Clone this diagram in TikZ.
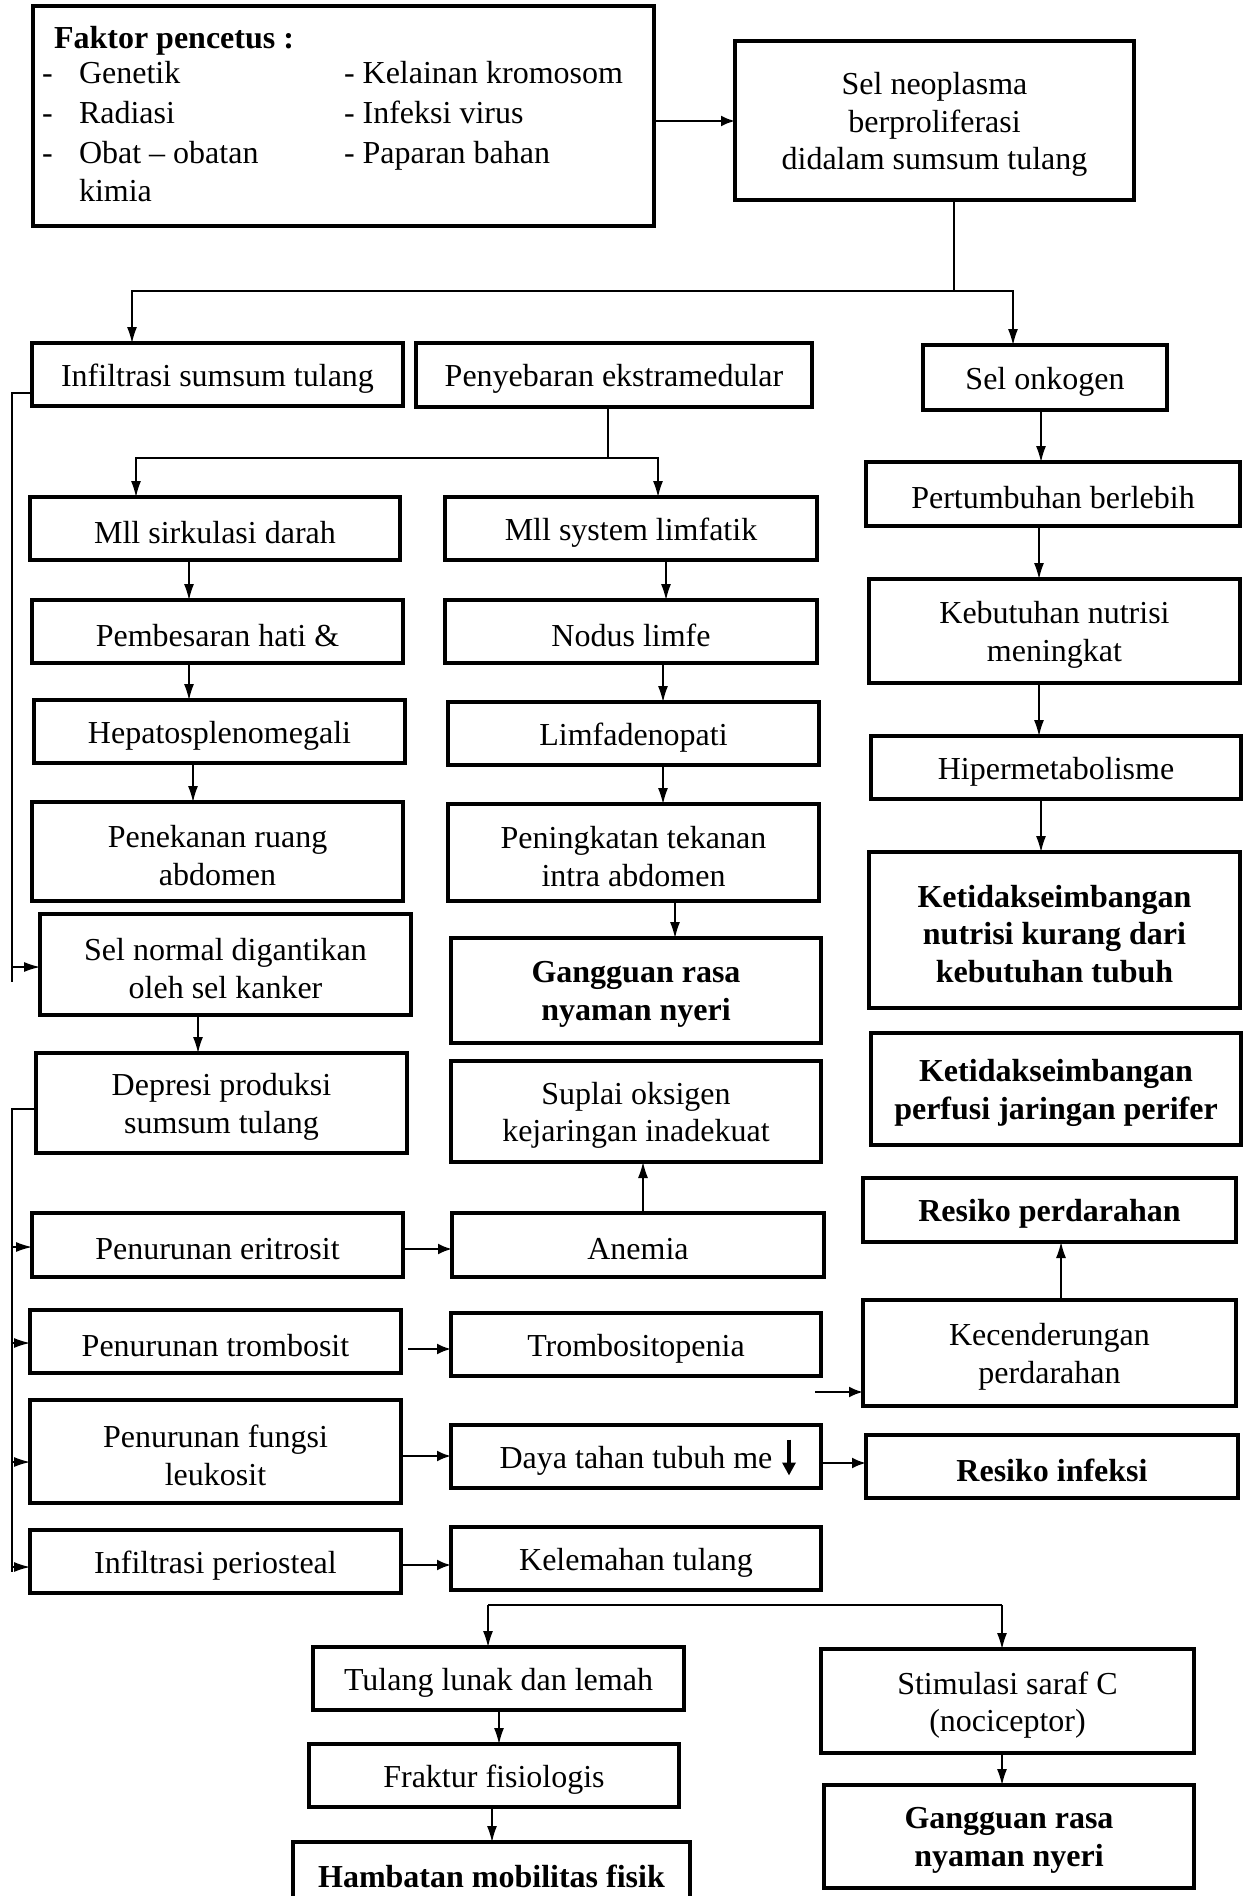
\documentclass[tikz,border=0pt]{standalone}
\usepackage{fontspec}
\setmainfont{Liberation Serif}
\usetikzlibrary{arrows.meta}
\tikzset{
  box/.style={draw=black, line width=3.5pt, inner sep=0pt, outer sep=0pt},
  lbl/.style={inner sep=0pt, outer sep=0pt, align=center, font=\fontsize{32}{37.5}\selectfont},
  blbl/.style={lbl, font=\fontsize{32}{37.5}\selectfont\bfseries},
  ln/.style={line width=1.3pt},
  arr/.style={line width=1.3pt, -{Latex[length=16pt,width=10pt]}},
  harr/.style={line width=2.4pt, -{Latex[length=14pt,width=11pt]}},
  txt/.style={inner sep=0pt, outer sep=0pt, anchor=base west, font=\fontsize{32}{37.5}\selectfont}
}
% \bx[label style]{name}{x1}{y1}{x2}{y2}{text}
\newcommand\bx[7][lbl]{\node[box, minimum width={#5-#3}, minimum height={#6-#4}] (#2) at ({(#3+#5)/2},{(#4+#6)/2}) {};
  \node[#1] (#2-t) at ([yshift=-4pt]#2.center) {#7};}
\begin{document}
\begin{tikzpicture}[x=1pt,y=-1pt]
\useasboundingbox (0,0) rectangle (1246,1896);
% top
\node[box, minimum width=621, minimum height=220] (fak) at (343.5,116) {};
\node[txt, font=\fontsize{32}{37.5}\selectfont\bfseries] (f0) at (54,48) {Faktor pencetus :};
\node[txt] (f1a) at (42,83.5) {-};
\node[txt] (f1b) at (79,83.5) {Genetik};
\node[txt] (f2a) at (42,123.5) {-};
\node[txt] (f2b) at (79,123.5) {Radiasi};
\node[txt] (f3a) at (42,163.5) {-};
\node[txt] (f3b) at (79,163.5) {Obat – obatan};
\node[txt] (f4b) at (79,201) {kimia};
\node[txt] (g1) at (344,83.5) {- Kelainan kromosom};
\node[txt] (g2) at (344,123.5) {- Infeksi virus};
\node[txt] (g3) at (344,163.5) {- Paparan bahan};
\bx{neo}{735}{41}{1134}{200}{Sel neoplasma\\berproliferasi\\didalam sumsum tulang}
% row 2
\bx{inf}{32}{343}{403}{406}{Infiltrasi sumsum tulang}
\bx{pen}{416}{343}{812}{407}{Penyebaran ekstramedular}
\bx{onk}{923}{345}{1167}{410}{Sel onkogen}
% left column
\bx{sirk}{30}{497}{400}{560}{Mll sirkulasi darah}
\bx{pemb}{32}{600}{403}{663}{Pembesaran hati \&}
\bx{hep}{34}{700}{405}{763}{Hepatosplenomegali}
\bx{pnk}{32}{802}{403}{901}{Penekanan ruang\\abdomen}
\bx{norm}{40}{914}{411}{1015}{Sel normal digantikan\\oleh sel kanker}
\bx{dep}{36}{1053}{407}{1153}{Depresi produksi\\sumsum tulang}
\bx{ert}{32}{1213}{403}{1277}{Penurunan eritrosit}
\bx{trom}{30}{1310}{401}{1373}{Penurunan trombosit}
\bx{leu}{30}{1400}{401}{1503}{Penurunan fungsi\\leukosit}
\bx{peri}{30}{1530}{401}{1593}{Infiltrasi periosteal}
% middle column
\bx{limf}{445}{497}{817}{560}{Mll system limfatik}
\bx{nod}{445}{600}{817}{663}{Nodus limfe}
\bx{lfa}{448}{702}{819}{765}{Limfadenopati}
\bx{pnt}{448}{804}{819}{901}{Peningkatan tekanan\\intra abdomen}
\bx[blbl]{gang1}{451}{938}{821}{1043}{Gangguan rasa\\nyaman nyeri}
\bx{sup}{451}{1061}{821}{1162}{Suplai oksigen\\kejaringan inadekuat}
\bx{anem}{452}{1213}{824}{1277}{Anemia}
\bx{tpen}{451}{1313}{821}{1376}{Trombositopenia}
\bx{daya}{451}{1425}{821}{1488}{Daya tahan tubuh me}
\draw[line width=3.5pt, -{Triangle[length=13pt,width=13pt]}] ([xshift=153pt,yshift=17pt]daya.center) -- ([xshift=153pt,yshift=-19pt]daya.center);
\bx{kel}{451}{1527}{821}{1590}{Kelemahan tulang}
% right column
\bx{pert}{866}{462}{1240}{526}{Pertumbuhan berlebih}
\bx{keb}{869}{579}{1240}{683}{Kebutuhan nutrisi\\meningkat}
\bx{hiper}{871}{736}{1241}{799}{Hipermetabolisme}
\bx[blbl]{ket1}{869}{852}{1240}{1008}{Ketidakseimbangan\\nutrisi kurang dari\\kebutuhan tubuh}
\bx[blbl]{ket2}{871}{1033}{1241}{1145}{Ketidakseimbangan\\perfusi jaringan perifer}
\bx[blbl]{resp}{863}{1178}{1236}{1242}{Resiko perdarahan}
\bx{kec}{863}{1300}{1236}{1406}{Kecenderungan\\perdarahan}
\bx[blbl]{resi}{866}{1435}{1238}{1498}{Resiko infeksi}
% bottom
\bx{tul}{313}{1647}{684}{1710}{Tulang lunak dan lemah}
\bx{frak}{309}{1744}{679}{1807}{Fraktur fisiologis}
\node[box, minimum width=397, minimum height=80, anchor=north west] (hamb) at (293,1842) {};
\node[blbl] (hamb-t) at (491.5,1876) {Hambatan mobilitas fisik};
\bx{stim}{821}{1649}{1194}{1753}{Stimulasi saraf C\\(nociceptor)}
\bx[blbl]{gang2}{824}{1785}{1194}{1888}{Gangguan rasa\\nyaman nyeri}

% connectors
\draw[harr] (fak.east |- 0,121) -- (neo.west |- 0,121);
\draw[ln] (neo.south -| 954,0) -- (954,291);
\draw[arr] (954,291) -| (inf.north -| 132,0);
\draw[arr] (954,291) -| (onk.north -| 1013,0);
\draw[ln] (pen.south -| 608,0) -- (608,458);
\draw[arr] (608,458) -| (sirk.north -| 136,0);
\draw[arr] (608,458) -| (limf.north -| 658,0);
\draw[arr] (sirk.south -| 189,0) -- (pemb.north -| 189,0);
\draw[arr] (pemb.south -| 189,0) -- (hep.north -| 189,0);
\draw[arr] (hep.south -| 193,0) -- (pnk.north -| 193,0);
\draw[arr] (limf.south -| 666,0) -- (nod.north -| 666,0);
\draw[arr] (nod.south -| 663,0) -- (lfa.north -| 663,0);
\draw[arr] (lfa.south -| 663,0) -- (pnt.north -| 663,0);
\draw[arr] (pnt.south -| 675,0) -- (gang1.north -| 675,0);
\draw[arr] (norm.south -| 198,0) -- (dep.north -| 198,0);
\draw[arr] (onk.south -| 1041,0) -- (pert.north -| 1041,0);
\draw[arr] (pert.south -| 1039,0) -- (keb.north -| 1039,0);
\draw[arr] (keb.south -| 1039,0) -- (hiper.north -| 1039,0);
\draw[arr] (hiper.south -| 1041,0) -- (ket1.north -| 1041,0);
% left feedback lines
\draw[ln] (inf.west |- 0,393) -| (12,982);
\draw[arr] (12,967) -- (norm.west |- 0,967);
\draw[ln] (dep.west |- 0,1109) -| (12,1572);
\draw[arr] (12,1247) -- (ert.west |- 0,1247);
\draw[arr] (12,1343) -- (trom.west |- 0,1343);
\draw[arr] (12,1462) -- (leu.west |- 0,1462);
\draw[arr] (12,1567) -- (peri.west |- 0,1567);
% horizontal arrows
\draw[harr] (ert.east |- 0,1249) -- (anem.west |- 0,1249);
\draw[harr] (408,1349) -- (tpen.west |- 0,1349);
\draw[harr] (leu.east |- 0,1456) -- (daya.west |- 0,1456);
\draw[harr] (daya.east |- 0,1463) -- (resi.west |- 0,1463);
\draw[harr] (peri.east |- 0,1565) -- (kel.west |- 0,1565);
\draw[arr] (anem.north -| 643,0) -- (sup.south -| 643,0);
\draw[arr] (kec.north -| 1061,0) -- (resp.south -| 1061,0);
\coordinate (kfree) at (815,1392);
\draw[harr] (kfree) -- (kec.west |- kfree);
% bottom branch
\coordinate (bl) at (488,1605);
\coordinate (br) at (1002,1605);
\draw[ln] (bl) -- (br);
\draw[arr] (bl) -- (tul.north -| bl);
\draw[arr] (br) -- (stim.north -| br);
\draw[arr] (tul.south -| 499,0) -- (frak.north -| 499,0);
\draw[arr] (frak.south -| 492,0) -- (hamb.north -| 492,0);
\draw[arr] (stim.south -| 1002,0) -- (gang2.north -| 1002,0);
\end{tikzpicture}
\end{document}
